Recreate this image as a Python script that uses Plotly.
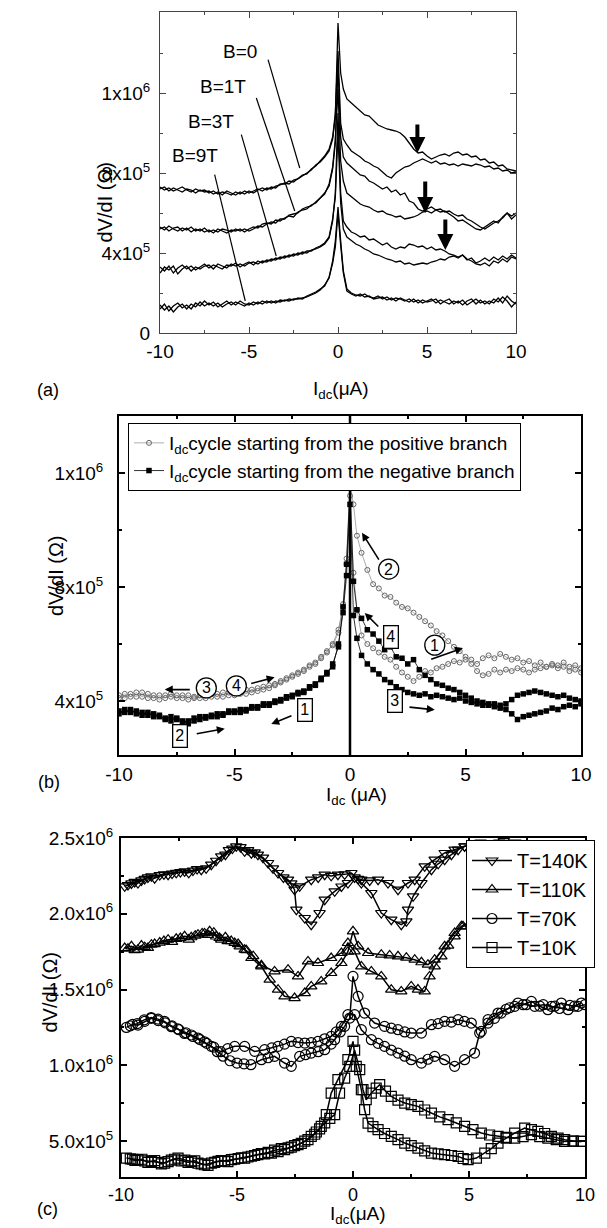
import plotly.graph_objects as go

W, H = 607, 1228
FONT = "Liberation Sans, Arial, Helvetica, sans-serif"
U = 1e5  # all dV/dI lists below are given in units of 1e5 Ohm

# ---------------- shared current grid (uA) for panels (a) and (b) ----------------
I_LEFT = [-10, -9.75, -9.5, -9.25, -9, -8.75, -8.5, -8.25, -8, -7.75, -7.5, -7.25, -7,
          -6.75, -6.5, -6.25, -6, -5.75, -5.5, -5.25, -5, -4.75, -4.5, -4.25, -4, -3.75,
          -3.5, -3.25, -3, -2.75, -2.5, -2.25, -2, -1.75, -1.5, -1.25, -1, -0.75, -0.5]
I_PEAK = [-0.3, -0.15, 0, 0.15, 0.3]
I_RIGHT = [0.5, 0.75, 1, 1.25, 1.5, 1.75, 2, 2.25, 2.5, 2.75, 3, 3.25, 3.5, 3.75, 4, 4.25,
           4.5, 4.75, 5, 5.25, 5.5, 5.75, 6, 6.25, 6.5, 6.75, 7, 7.25, 7.5, 7.75, 8, 8.25,
           8.5, 8.75, 9, 9.25, 9.5, 9.75, 10]
I_GRID = I_LEFT + I_PEAK + I_RIGHT

# ---------------- panel (a): field dependence, two sweeps per field ----------------
B0_SWEEP1 = [7.3, 7.15, 7.25, 7.1, 7.2, 7.3, 7.15, 7.05, 7.2, 7.1, 7.15, 7.0, 7.1, 6.95, 7.05, 7.0,
             6.9, 7.05, 6.95, 7.1, 7.0, 7.1, 7.2, 7.1, 7.25, 7.2, 7.35, 7.4, 7.5, 7.45, 7.65, 7.7,
             7.85, 8.0, 8.15, 8.4, 8.55, 8.8, 9.1,
             9.7, 10.8, 15.5, 13.0, 12.2,
             11.7, 11.5, 11.3, 11.1, 10.9, 10.85, 10.6, 10.4, 10.3, 10.2, 10.15, 10.1, 10.0, 9.8,
             9.5, 9.2, 9.0, 9.05, 8.85, 8.7, 8.8, 8.9, 8.95, 8.85, 9.0, 9.05, 8.9, 8.95, 8.8,
             8.85, 8.65, 8.7, 8.5, 8.55, 8.35, 8.4, 8.2, 8.15, 8.1]
B0_SWEEP2 = [7.2, 7.3, 7.1, 7.25, 7.15, 7.05, 7.2, 7.15, 7.0, 7.15, 7.05, 7.1, 6.95, 7.05, 6.9, 7.1,
             7.0, 6.9, 7.05, 6.95, 7.1, 7.0, 7.15, 7.25, 7.15, 7.3, 7.25, 7.45, 7.45, 7.6, 7.55,
             7.75, 7.9, 7.95, 8.2, 8.35, 8.6, 8.85, 9.2,
             9.8, 11.0, 14.1, 10.5, 9.7,
             9.4, 9.1, 8.95, 8.8, 8.6, 8.5, 8.35, 8.25, 8.05, 7.85, 7.75, 8.0, 8.15, 8.3, 8.35,
             8.5, 8.6, 8.7, 8.6, 8.5, 8.6, 8.45, 8.5, 8.4, 8.45, 8.35, 8.45, 8.4, 8.35, 8.45,
             8.4, 8.3, 8.35, 8.2, 8.25, 8.1, 8.15, 8.0, 8.05]
B1_SWEEP1 = [5.3, 5.15, 5.35, 5.2, 5.1, 5.25, 5.15, 5.3, 5.1, 5.2, 5.05, 5.15, 5.0, 5.2, 5.1, 5.0,
             5.15, 5.1, 5.2, 5.05, 5.2, 5.3, 5.25, 5.45, 5.5, 5.45, 5.65, 5.6, 5.75, 5.85, 5.8,
             6.05, 6.15, 6.2, 6.4, 6.5, 6.75, 7.0, 7.35,
             8.2, 9.5, 13.3, 9.8, 8.8,
             8.5, 8.3, 8.1, 7.9, 7.85, 7.6, 7.5, 7.35, 7.2, 7.3, 7.05, 7.15, 6.9, 7.0, 6.6, 6.5,
             6.2, 6.1, 6.2, 6.3, 6.15, 6.2, 6.05, 6.1, 5.95, 5.85, 5.9, 5.7, 5.6, 5.45, 5.3, 5.2,
             5.35, 5.5, 5.6, 5.75, 6.0, 5.7, 5.9]
B1_SWEEP2 = [5.2, 5.3, 5.1, 5.25, 5.3, 5.1, 5.25, 5.05, 5.2, 5.1, 5.25, 5.05, 5.15, 5.05, 5.2,
             5.15, 5.05, 5.2, 5.1, 5.2, 5.1, 5.2, 5.35, 5.3, 5.45, 5.55, 5.5, 5.7, 5.7, 5.9, 5.95,
             6.0, 6.2, 6.3, 6.35, 6.55, 6.8, 6.95, 7.45,
             8.3, 9.7, 12.2, 8.6, 7.6,
             7.0, 6.8, 6.6, 6.45, 6.35, 6.3, 6.15, 6.05, 6.1, 5.95, 5.9, 5.8, 5.85, 5.7, 5.75,
             5.8, 5.9, 6.05, 6.1, 6.0, 6.15, 6.05, 6.1, 5.95, 5.8, 5.6, 5.65, 5.5, 5.35, 5.2,
             5.15, 5.3, 5.45, 5.6, 5.5, 5.8, 6.0, 5.85, 6.0]
B3_SWEEP1 = [3.3, 3.1, 3.35, 3.0, 3.25, 3.4, 3.2, 3.35, 3.15, 3.3, 3.45, 3.25, 3.4, 3.3, 3.2, 3.4,
             3.35, 3.5, 3.3, 3.45, 3.55, 3.4, 3.6, 3.5, 3.65, 3.6, 3.75, 3.7, 3.85, 3.8, 3.95, 3.9,
             4.05, 4.0, 4.15, 4.2, 4.3, 4.45, 4.75,
             5.6, 7.0, 11.0, 7.0, 5.6,
             5.3, 5.05, 4.95, 4.8, 4.85, 4.65, 4.7, 4.55, 4.4, 4.5, 4.3, 4.2, 4.3, 4.25, 4.45,
             4.4, 4.3, 4.35, 4.2, 4.3, 4.15, 4.2, 4.1, 3.95, 3.9, 3.8, 3.9, 3.65, 3.75, 3.5, 3.6,
             3.75, 3.6, 3.8, 3.65, 3.85, 3.7, 3.9, 3.75]
B3_SWEEP2 = [3.0, 3.3, 3.15, 3.35, 2.95, 3.2, 3.35, 3.1, 3.3, 3.2, 3.35, 3.4, 3.2, 3.45, 3.35,
             3.25, 3.45, 3.35, 3.45, 3.35, 3.5, 3.55, 3.45, 3.6, 3.55, 3.7, 3.65, 3.8, 3.75, 3.9,
             3.85, 4.0, 3.95, 4.1, 4.1, 4.25, 4.35, 4.5, 4.8,
             5.7, 6.8, 10.0, 6.5, 5.2,
             4.8, 4.6, 4.45, 4.35, 4.2, 4.1, 3.95, 3.9, 3.8, 3.7, 3.65, 3.55, 3.6, 3.45, 3.5,
             3.4, 3.45, 3.5, 3.45, 3.55, 3.6, 3.7, 3.65, 3.8, 3.85, 3.75, 3.9, 3.7, 3.6, 3.45,
             3.4, 3.5, 3.35, 3.6, 3.5, 3.7, 3.55, 3.8, 3.7]
B9_SWEEP1 = [1.2, 1.45, 1.1, 1.35, 1.5, 1.25, 1.4, 1.2, 1.5, 1.35, 1.6, 1.4, 1.55, 1.3, 1.45, 1.6,
             1.4, 1.55, 1.45, 1.35, 1.5, 1.4, 1.55, 1.45, 1.6, 1.5, 1.6, 1.55, 1.65, 1.6, 1.7,
             1.7, 1.75, 1.8, 1.9, 2.0, 2.15, 2.4, 2.75,
             3.6, 4.6, 6.3, 4.6, 3.1,
             2.2, 2.0, 1.9, 1.85, 1.95, 1.8, 1.75, 1.85, 1.7, 1.8, 1.65, 1.75, 1.7, 1.6, 1.7,
             1.55, 1.65, 1.5, 1.6, 1.7, 1.5, 1.65, 1.55, 1.45, 1.6, 1.5, 1.65, 1.4, 1.55, 1.7,
             1.5, 1.6, 1.45, 1.7, 1.55, 1.8, 1.6, 1.3, 1.55]
B9_SWEEP2 = [1.4, 1.15, 1.35, 1.05, 1.3, 1.45, 1.2, 1.45, 1.3, 1.55, 1.35, 1.5, 1.35, 1.5, 1.3,
             1.45, 1.55, 1.4, 1.6, 1.45, 1.4, 1.55, 1.45, 1.6, 1.5, 1.6, 1.5, 1.65, 1.6, 1.7,
             1.65, 1.75, 1.7, 1.85, 1.95, 2.05, 2.2, 2.35, 2.8,
             3.5, 4.3, 6.0, 4.4, 3.0,
             2.1, 1.95, 1.85, 1.95, 1.8, 1.85, 1.7, 1.75, 1.8, 1.65, 1.75, 1.6, 1.75, 1.65, 1.55,
             1.7, 1.5, 1.65, 1.55, 1.6, 1.7, 1.45, 1.6, 1.7, 1.45, 1.6, 1.4, 1.6, 1.7, 1.45,
             1.65, 1.45, 1.6, 1.5, 1.75, 1.5, 1.85, 1.6, 1.45]

# ---------------- panel (b): cycles started from positive / negative branch ----------------
POS_SWEEP1 = [4.2, 4.1, 4.25, 4.15, 4.3, 4.1, 4.2, 4.05, 4.2, 4.15, 4.1, 4.2, 4.05, 4.15, 4.1,
              4.2, 4.15, 4.25, 4.15, 4.3, 4.2, 4.3, 4.25, 4.4, 4.35, 4.5, 4.45, 4.6, 4.7, 4.75,
              4.9, 4.95, 5.1, 5.2, 5.35, 5.5, 5.7, 6.0, 6.5,
              7.3, 9.0, 11.6, 10.9, 9.8,
              9.2, 8.6, 8.1, 7.95, 7.7, 7.65, 7.45, 7.3, 7.25, 7.1, 6.95, 6.8, 6.65, 6.45, 6.3,
              6.1, 5.9, 5.75, 5.55, 5.45, 5.3, 5.5, 5.6, 5.5, 5.65, 5.55, 5.45, 5.5, 5.35, 5.4,
              5.25, 5.35, 5.2, 5.25, 5.15, 5.2, 5.05, 5.1, 5.0]
POS_SWEEP2 = [4.1, 4.25, 4.15, 4.3, 4.15, 4.25, 4.1, 4.2, 4.1, 4.25, 4.2, 4.1, 4.2, 4.1, 4.2,
              4.1, 4.25, 4.15, 4.3, 4.2, 4.3, 4.25, 4.4, 4.3, 4.45, 4.4, 4.55, 4.55, 4.65, 4.8,
              4.85, 5.0, 5.05, 5.25, 5.3, 5.55, 5.75, 5.95, 6.4,
              7.4, 8.8, 11.2, 8.5, 7.2,
              6.3, 6.0, 5.85, 5.7, 5.55, 5.45, 5.2, 5.0, 4.85, 4.7, 4.85, 5.05, 5.0, 5.15, 5.2,
              5.3, 5.4, 5.35, 5.45, 5.3, 5.05, 4.9, 4.95, 5.1, 5.0, 5.1, 5.05, 5.15, 5.1, 5.0,
              5.1, 5.15, 5.2, 5.3, 5.25, 5.35, 5.2, 5.25, 5.15]
NEG_SWEEP1 = [3.65, 3.6, 3.7, 3.55, 3.6, 3.5, 3.55, 3.45, 3.4, 3.45, 3.35, 3.25, 3.3, 3.4, 3.35,
              3.45, 3.5, 3.45, 3.55, 3.6, 3.65, 3.6, 3.7, 3.75, 3.8, 3.85, 3.9, 3.95, 4.05, 4.1,
              4.2, 4.25, 4.35, 4.45, 4.6, 4.75, 4.95, 5.3, 5.9,
              7.3, 8.8, 11.5, 8.2, 7.2,
              6.9, 6.5, 6.35, 6.1, 5.8, 5.9, 5.55, 5.5, 5.3, 5.45, 5.1, 4.9, 4.75, 4.6, 4.55,
              4.45, 4.4, 4.3, 4.2, 4.1, 4.0, 3.95, 3.85, 3.9, 3.75, 3.7, 3.55, 3.35, 3.45, 3.5,
              3.55, 3.6, 3.65, 3.75, 3.7, 3.8, 3.85, 3.8, 3.9]
NEG_SWEEP2 = [3.55, 3.7, 3.6, 3.65, 3.5, 3.6, 3.45, 3.5, 3.35, 3.3, 3.4, 3.3, 3.2, 3.3, 3.45,
              3.4, 3.45, 3.55, 3.5, 3.65, 3.6, 3.7, 3.65, 3.8, 3.75, 3.9, 3.85, 4.0, 4.0, 4.15,
              4.15, 4.3, 4.3, 4.5, 4.55, 4.8, 5.0, 5.2, 6.0,
              7.1, 8.4, 10.9, 7.0, 6.2,
              5.6, 5.3, 5.1, 4.95, 4.75, 4.65, 4.5, 4.4, 4.3, 4.25, 4.2, 4.25, 4.15, 4.2, 4.15,
              4.1, 4.05, 4.1, 4.0, 3.95, 3.9, 3.85, 3.9, 3.8, 3.85, 3.9, 4.05, 4.2, 4.25, 4.3,
              4.35, 4.3, 4.25, 4.2, 4.15, 4.2, 4.1, 4.05, 4.0]

# ---------------- panel (c): temperature dependence, two sweeps per T ----------------
T140_X1 = [-9.84, -9.55, -9.27, -8.98, -8.69, -8.33, -7.97, -7.62, -7.26, -6.9, -6.54, -6.11,
           -5.68, -5.35, -5.03, -4.67, -4.38, -4.1, -3.66, -3.23, -2.8, -2.52, -2.44, -2.08,
           -1.8, -1.44, -1.22, -0.79, -0.5, -0.22, 0.07, 0.36, 0.72, 1.08, 1.51, 1.94, 2.37,
           2.66, 3.09, 3.52, 3.95, 4.38, 4.81, 5.3, 5.8, 6.3, 6.8, 7.3, 7.8, 8.3, 8.8, 9.3, 9.8]
T140_Y1 = [21.81, 22.0, 22.03, 22.3, 22.47, 22.55, 22.58, 22.7, 22.8, 22.85, 22.91, 23.24,
           23.79, 24.2, 24.45, 24.12, 24.0, 23.9, 23.35, 22.69, 22.25, 21.59, 20.27, 19.72,
           19.28, 20.05, 20.93, 21.48, 21.8, 22.03, 22.4, 22.25, 22.2, 22.25, 22.03, 21.59,
           22.03, 22.25, 23.13, 23.57, 24.01, 24.23, 24.45, 24.6, 24.5, 24.7, 24.6, 24.5, 24.4,
           24.3, 24.2, 24.1, 24.0]
T140_X2 = [-9.7, -9.41, -9.12, -8.84, -8.55, -8.15, -7.8, -7.44, -7.08, -6.72, -6.33, -5.9,
           -5.5, -5.2, -4.85, -4.52, -4.24, -3.88, -3.45, -3.0, -2.66, -2.3, -1.8, -1.5, -1.22,
           -0.94, -0.65, -0.36, -0.07, 0.22, 0.36, 0.79, 1.22, 1.65, 2.08, 2.3, 2.37, 2.59,
           2.95, 3.38, 3.67, 3.95, 4.24, 4.53, 4.81, 5.5, 6.0, 6.5, 7.0, 7.5, 8.0, 8.5, 9.0,
           9.5, 10.0]
T140_Y2 = [21.9, 22.1, 22.2, 22.4, 22.35, 22.6, 22.65, 22.75, 22.7, 22.95, 23.0, 23.5, 23.9,
           24.3, 24.4, 24.2, 24.05, 23.7, 23.0, 22.4, 22.0, 21.81, 22.25, 22.4, 22.58, 22.5,
           22.58, 22.6, 22.69, 22.3, 22.03, 21.37, 20.05, 19.61, 19.28, 19.5, 20.27, 21.15,
           22.03, 22.91, 23.3, 23.57, 23.9, 24.23, 24.45, 24.7, 24.6, 24.8, 24.7, 24.5, 24.4,
           24.3, 24.2, 24.1, 24.0]
T110_X1 = [-9.84, -9.55, -9.27, -8.98, -8.69, -8.33, -7.97, -7.62, -7.26, -6.97, -6.68, -6.4,
           -6.18, -5.9, -5.68, -5.4, -5.1, -4.88, -4.67, -4.38, -3.95, -3.59, -3.23, -2.95,
           -2.52, -2.08, -1.8, -1.37, -0.94, -0.5, -0.22, 0.0, 0.22, 0.65, 1.22, 1.58, 1.94,
           2.3, 2.66, 2.95, 3.23, 3.52, 3.95, 4.38, 4.67, 5.2, 5.8, 6.4, 7.0, 7.6, 8.2, 8.8,
           9.4, 10.0]
T110_Y1 = [17.74, 17.85, 17.63, 17.8, 17.96, 18.1, 18.29, 18.35, 18.51, 18.45, 18.62, 18.7,
           18.84, 18.5, 18.29, 18.2, 18.07, 17.85, 17.63, 17.08, 16.53, 15.65, 14.99, 14.55,
           14.44, 14.77, 15.21, 15.54, 16.09, 16.75, 17.5, 18.84, 17.85, 17.41, 17.3, 17.25,
           17.19, 17.1, 16.97, 16.8, 16.64, 16.97, 17.85, 18.73, 19.17, 19.6, 19.9, 20.1, 20.0,
           19.9, 20.1, 20.0, 19.8, 19.9]
T110_X2 = [-9.7, -9.41, -9.12, -8.84, -8.55, -8.15, -7.8, -7.44, -7.08, -6.8, -6.5, -6.25, -6.0,
           -5.75, -5.5, -5.25, -4.95, -4.6, -4.3, -3.95, -3.38, -2.8, -2.37, -1.94, -1.51, -0.94,
           -0.5, -0.22, 0.07, 0.36, 0.79, 1.22, 1.65, 2.08, 2.51, 2.8, 3.09, 3.3, 3.52, 3.81,
           4.1, 4.38, 4.74, 5.3, 5.9, 6.5, 7.1, 7.7, 8.3, 8.9, 9.5, 10.0]
T110_Y2 = [17.7, 17.6, 17.9, 17.75, 18.0, 18.2, 18.15, 18.4, 18.3, 18.55, 18.7, 18.6, 18.75,
           18.4, 18.45, 18.2, 18.0, 17.6, 17.2, 16.6, 16.2, 16.31, 15.87, 16.86, 16.75, 17.08,
           17.41, 18.07, 17.52, 16.53, 16.2, 15.87, 14.99, 14.88, 15.21, 15.0, 14.88, 15.87,
           16.53, 17.19, 17.9, 18.51, 19.17, 19.5, 19.8, 20.0, 20.2, 19.9, 20.0, 19.8, 20.1, 19.9]
T70_X1 = [-9.77, -9.5, -9.27, -8.98, -8.69, -8.4, -8.12, -7.83, -7.55, -7.26, -6.97, -6.68,
          -6.4, -6.11, -5.85, -5.6, -5.3, -5.0, -4.7, -4.4, -3.95, -3.66, -3.38, -2.95, -2.66,
          -2.3, -2.05, -1.8, -1.5, -1.22, -0.94, -0.79, -0.55, -0.36, -0.14, 0.0, 0.22, 0.5,
          0.93, 1.36, 1.65, 1.94, 2.23, 2.51, 2.95, 3.38, 3.67, 3.95, 4.24, 4.53, 4.8, 5.1,
          5.53, 5.82, 6.25, 6.6, 6.97, 7.33, 7.69, 8.05, 8.4, 8.7, 8.98, 9.35, 9.7, 10.0]
T70_Y1 = [12.5, 12.7, 12.65, 12.9, 13.1, 12.95, 12.9, 12.55, 12.4, 12.1, 12.0, 11.8, 11.55,
          11.25, 10.9, 10.6, 10.3, 10.15, 10.1, 10.04, 10.37, 10.5, 10.59, 10.15, 9.93, 10.59,
          10.7, 10.81, 10.9, 11.03, 11.4, 11.69, 12.2, 12.57, 13.12, 15.87, 14.55, 13.45,
          12.79, 12.57, 12.45, 12.35, 12.2, 12.13, 12.13, 12.68, 12.75, 12.9, 12.85, 13.01,
          12.9, 12.79, 12.24, 13.01, 13.45, 13.7, 13.89, 14.0, 14.22, 13.9, 13.67, 13.9,
          14.11, 13.95, 13.89, 14.0]
T70_X2 = [-9.6, -9.3, -9.0, -8.7, -8.4, -8.1, -7.8, -7.5, -7.2, -6.9, -6.6, -6.3, -6.0, -5.7,
          -5.4, -5.1, -4.67, -4.24, -3.81, -3.5, -3.23, -2.95, -2.66, -2.37, -2.08, -1.8, -1.51,
          -1.22, -0.94, -0.72, -0.5, -0.22, 0.07, 0.36, 0.79, 1.08, 1.36, 1.65, 1.94, 2.23,
          2.51, 2.95, 3.23, 3.52, 3.95, 4.38, 4.81, 5.24, 5.46, 5.82, 6.1, 6.39, 6.75, 7.11,
          7.47, 7.83, 8.2, 8.55, 8.9, 9.27, 9.55, 9.84]
T70_Y2 = [12.6, 12.75, 13.0, 13.15, 13.05, 12.8, 12.6, 12.35, 12.15, 11.9, 11.7, 11.45, 11.2,
          10.9, 11.1, 11.25, 11.25, 10.92, 11.03, 11.15, 11.25, 11.4, 11.58, 11.5, 11.47, 11.5,
          11.58, 11.75, 11.91, 12.2, 12.57, 13.34, 13.34, 12.35, 11.69, 11.45, 11.25, 11.0,
          10.81, 10.6, 10.37, 10.15, 10.4, 10.59, 10.37, 9.93, 10.37, 10.81, 12.13, 12.79,
          13.1, 13.45, 13.8, 14.11, 14.0, 13.89, 14.0, 13.89, 13.75, 13.67, 13.9, 14.11]
T10_X1 = [-9.77, -9.5, -9.27, -8.98, -8.69, -8.4, -8.12, -7.83, -7.54, -7.25, -6.97, -6.68,
          -6.4, -6.1, -5.82, -5.53, -5.24, -4.95, -4.67, -4.38, -4.1, -3.81, -3.52, -3.23,
          -2.95, -2.66, -2.37, -2.08, -1.8, -1.58, -1.37, -1.15, -0.94, -0.65, -0.22, 0.0,
          0.14, 0.36, 0.5, 0.65, 0.86, 1.08, 1.36, 1.65, 1.94, 2.23, 2.51, 2.8, 3.09, 3.38,
          3.67, 3.95, 4.24, 4.53, 4.75, 4.96, 5.32, 5.68, 5.96, 6.25, 6.6, 6.97, 7.4, 7.69,
          7.97, 8.26, 8.55, 8.84, 9.12, 9.5, 9.84]
T10_Y1 = [3.88, 3.8, 3.77, 3.7, 3.66, 3.6, 3.55, 3.75, 3.88, 3.75, 3.66, 3.55, 3.44, 3.55,
          3.66, 3.7, 3.77, 3.85, 3.88, 4.0, 4.1, 4.15, 4.21, 4.3, 4.43, 4.6, 4.76, 5.0, 5.31,
          5.6, 5.97, 6.74, 8.17, 9.05, 10.37, 11.58, 9.93, 8.39, 7.07, 6.19, 5.95, 5.75, 5.5,
          5.31, 5.1, 4.87, 4.7, 4.54, 4.35, 4.21, 4.15, 4.1, 4.05, 3.99, 3.85, 3.77, 3.88,
          4.21, 4.5, 4.87, 5.2, 5.53, 5.86, 5.75, 5.64, 5.5, 5.31, 5.2, 5.09, 5.0, 4.98]
T10_X2 = [-9.6, -9.4, -9.1, -8.84, -8.55, -8.26, -7.97, -7.69, -7.4, -7.11, -6.82, -6.54,
          -6.25, -5.96, -5.68, -5.39, -5.1, -4.81, -4.53, -4.24, -3.95, -3.66, -3.38, -3.09,
          -2.8, -2.52, -2.23, -1.94, -1.65, -1.44, -1.22, -1.0, -0.79, -0.58, -0.36, -0.14,
          0.07, 0.29, 0.43, 0.57, 0.79, 1.0, 1.15, 1.4, 1.65, 1.94, 2.23, 2.51, 2.8, 3.09,
          3.38, 3.74, 4.1, 4.45, 4.81, 5.17, 5.53, 5.89, 6.25, 6.6, 6.97, 7.33, 7.69, 8.05,
          8.4, 8.76, 9.12, 9.48, 9.84]
T10_Y2 = [3.82, 3.72, 3.8, 3.6, 3.72, 3.5, 3.65, 3.8, 3.7, 3.6, 3.7, 3.5, 3.4, 3.6, 3.72,
          3.65, 3.8, 3.9, 3.95, 4.05, 4.18, 4.25, 4.4, 4.5, 4.55, 4.7, 4.85, 5.1, 5.45, 5.8,
          6.2, 6.5, 6.74, 8.17, 9.16, 9.93, 11.0, 9.71, 8.39, 7.73, 8.17, 8.5, 8.72, 8.3, 7.95,
          7.7, 7.51, 7.4, 7.29, 7.05, 6.85, 6.6, 6.41, 6.2, 5.97, 5.75, 5.53, 5.4, 5.31, 5.25,
          5.2, 5.3, 5.42, 5.3, 5.2, 5.1, 4.98, 5.0, 4.98]

X_TICKS = [-10, -5, 0, 5, 10]
X_TICKTEXT = ["-10", "-5", "0", "5", "10"]
A_YTICKS = [0, 4, 8, 12]
A_YTICKTEXT = ["0", "4x10<sup>5</sup>", "8x10<sup>5</sup>", "1x10<sup>6</sup>"]
B_YTICKS = [4, 8, 12]
B_YTICKTEXT = ["4x10<sup>5</sup>", "8x10<sup>5</sup>", "1x10<sup>6</sup>"]
C_YTICKS = [5, 10, 15, 20, 25]
C_YTICKTEXT = ["5.0x10<sup>5</sup>", "1.0x10<sup>6</sup>", "1.5x10<sup>6</sup>",
               "2.0x10<sup>6</sup>", "2.5x10<sup>6</sup>"]

for arr in [B0_SWEEP1, B0_SWEEP2, B1_SWEEP1, B1_SWEEP2, B3_SWEEP1, B3_SWEEP2, B9_SWEEP1,
            B9_SWEEP2, POS_SWEEP1, POS_SWEEP2, NEG_SWEEP1, NEG_SWEEP2]:
    assert len(arr) == len(I_GRID), len(arr)
for xs, ys in [(T140_X1, T140_Y1), (T140_X2, T140_Y2), (T110_X1, T110_Y1), (T110_X2, T110_Y2),
               (T70_X1, T70_Y1), (T70_X2, T70_Y2), (T10_X1, T10_Y1), (T10_X2, T10_Y2)]:
    assert len(xs) == len(ys), (len(xs), len(ys))


def ohm(v):
    return [u * U for u in v]


def px_x(p):
    return p / W


def px_y(p):
    return 1 - p / H


fig = go.Figure()

# ---- panel (a)
for ys in [B0_SWEEP1, B0_SWEEP2, B1_SWEEP1, B1_SWEEP2, B3_SWEEP1, B3_SWEEP2, B9_SWEEP1, B9_SWEEP2]:
    fig.add_trace(go.Scatter(x=I_GRID, y=ohm(ys), mode="lines", xaxis="x", yaxis="y",
                             line=dict(color="black", width=1.3), showlegend=False))

# ---- panel (b)
pos_name = "I<sub>dc</sub>cycle starting from the positive branch"
neg_name = "I<sub>dc</sub>cycle starting from the negative branch"
for i, ys in enumerate([POS_SWEEP1, POS_SWEEP2]):
    fig.add_trace(go.Scatter(x=I_GRID, y=ohm(ys), mode="lines+markers", xaxis="x2", yaxis="y2",
                             name=pos_name, legendgroup="pos", showlegend=(i == 0), legend="legend",
                             line=dict(color="#888888", width=0.7),
                             marker=dict(symbol="circle-open", size=5, color="#666666",
                                         line=dict(width=1))))
for i, ys in enumerate([NEG_SWEEP1, NEG_SWEEP2]):
    fig.add_trace(go.Scatter(x=I_GRID, y=ohm(ys), mode="lines+markers", xaxis="x2", yaxis="y2",
                             name=neg_name, legendgroup="neg", showlegend=(i == 0), legend="legend",
                             line=dict(color="black", width=0.8),
                             marker=dict(symbol="square", size=5.5, color="black")))

# ---- panel (c)
c_series = [("T=140K", "triangle-down-open", [(T140_X1, T140_Y1), (T140_X2, T140_Y2)]),
            ("T=110K", "triangle-up-open", [(T110_X1, T110_Y1), (T110_X2, T110_Y2)]),
            ("T=70K", "circle-open", [(T70_X1, T70_Y1), (T70_X2, T70_Y2)]),
            ("T=10K", "square-open", [(T10_X1, T10_Y1), (T10_X2, T10_Y2)])]
for name, sym, sweeps in c_series:
    for i, (xs, ys) in enumerate(sweeps):
        fig.add_trace(go.Scatter(x=xs, y=ohm(ys), mode="lines+markers", xaxis="x3", yaxis="y3",
                                 name=name, legendgroup=name, showlegend=(i == 0), legend="legend2",
                                 line=dict(color="black", width=1.5),
                                 marker=dict(symbol=sym, size=10, color="black",
                                             line=dict(width=1.2))))


def xaxis_cfg(domain, anchor, lw, lc, standoff, fsize=19):
    return dict(domain=domain, anchor=anchor, range=[-10, 10], tickvals=X_TICKS,
                ticktext=X_TICKTEXT, showline=True, linewidth=lw, linecolor=lc, mirror="ticks",
                ticks="inside", ticklen=6, tickwidth=lw, tickcolor=lc, showgrid=False,
                zeroline=False, ticklabelstandoff=standoff,
                tickfont=dict(family=FONT, size=fsize, color="black"),
                minor=dict(ticks="inside", ticklen=3, tickwidth=lw, tickcolor=lc, dtick=2.5,
                           tick0=0, showgrid=False))


def yaxis_cfg(domain, anchor, rng, tv, tt, mdt, lw, lc, standoff):
    return dict(domain=domain, anchor=anchor, range=rng, tickvals=tv, ticktext=tt,
                showline=True, linewidth=lw, linecolor=lc, mirror="ticks", ticks="inside",
                ticklen=6, tickwidth=lw, tickcolor=lc, showgrid=False, zeroline=False,
                ticklabelstandoff=standoff, tickfont=dict(family=FONT, size=19, color="black"),
                minor=dict(ticks="inside", ticklen=3, tickwidth=lw, tickcolor=lc, dtick=mdt,
                           tick0=0, showgrid=False))


fig.update_layout(
    width=W, height=H, margin=dict(l=0, r=0, t=0, b=0, autoexpand=False),
    paper_bgcolor="white", plot_bgcolor="white",
    font=dict(family=FONT, size=19, color="black"),
    xaxis=xaxis_cfg([px_x(152), px_x(508)], "y", 1, "#444444", 1),
    yaxis=yaxis_cfg([px_y(325), px_y(4)], "x", [0, 16.05 * U], [v * U for v in A_YTICKS],
                    A_YTICKTEXT, 2 * U, 1, "#444444", 5),
    xaxis2=xaxis_cfg([px_x(111), px_x(573)], "y2", 2, "black", 1),
    yaxis2=yaxis_cfg([px_y(747), px_y(408)], "x2", [2.105 * U, 14.0 * U],
                     [v * U for v in B_YTICKS], B_YTICKTEXT, 2 * U, 2, "black", 10),
    xaxis3=xaxis_cfg([px_x(113), px_x(577)], "y3", 2, "black", 0, 18),
    yaxis3=yaxis_cfg([px_y(1169), px_y(830)], "x3", [2.63 * U, 25 * U],
                     [v * U for v in C_YTICKS], C_YTICKTEXT, 2.5 * U, 2, "black", 2),
    legend=dict(x=px_x(120), y=px_y(415), xanchor="left", yanchor="top", bgcolor="white",
                bordercolor="black", borderwidth=1, font=dict(family=FONT, size=19),
                tracegroupgap=0, itemwidth=30),
    legend2=dict(x=px_x(458), y=px_y(832), xanchor="left", yanchor="top", bgcolor="white",
                 bordercolor="black", borderwidth=1, font=dict(family=FONT, size=20),
                 tracegroupgap=0, itemwidth=40),
)

shapes = []
annotations = []

# ---- panel (a) labels with pointer lines
a_labels = [("B=0", -5.52, 14.1, (-3.93, 13.67), (-2.15, 8.25)),
            ("B=1T", -6.46, 12.35, (-4.59, 11.75), (-2.43, 6.1)),
            ("B=3T", -7.13, 10.6, (-5.43, 9.92), (-3.47, 3.85)),
            ("B=9T", -8.05, 8.9, (-6.93, 7.92), (-5.21, 1.6))]
for txt, tx, ty, p0, p1 in a_labels:
    annotations.append(dict(x=tx, y=ty * U, xref="x", yref="y", text=txt, showarrow=False,
                            font=dict(family=FONT, size=19)))
    shapes.append(dict(type="line", xref="x", yref="y", x0=p0[0], y0=p0[1] * U, x1=p1[0],
                       y1=p1[1] * U, line=dict(color="black", width=1.2)))
for ax_, y_top, y_tip in [(4.46, 10.5, 9.0), (4.9, 7.65, 6.0), (6.03, 5.75, 4.15)]:
    annotations.append(dict(x=ax_, y=y_tip * U, ax=ax_, ay=y_top * U, xref="x", yref="y",
                            axref="x", ayref="y", text="", showarrow=True, arrowhead=2,
                            arrowsize=0.8, arrowwidth=4, arrowcolor="black"))

# ---- panel (b) markers of cycle order
shapes.append(dict(type="line", xref="x2", yref="y2 domain", x0=0, x1=0, y0=0, y1=1,
                   line=dict(color="black", width=2.5)))
circled = [("2", 1.675, 8.63), ("1", 3.67, 5.96), ("3", -6.22, 4.46), ("4", -4.92, 4.53)]
boxed = [("4", 1.79, 6.25), ("3", 1.94, 4.0), ("1", -1.96, 3.69), ("2", -7.37, 2.76)]
for txt, cx, cy in circled:
    shapes.append(dict(type="circle", xref="x2", yref="y2", xsizemode="pixel",
                       ysizemode="pixel", xanchor=cx, yanchor=cy * U, x0=-10, x1=10, y0=-10,
                       y1=10, line=dict(color="black", width=1.3), fillcolor="white"))
    annotations.append(dict(x=cx, y=cy * U, xref="x2", yref="y2", text=txt, showarrow=False,
                            font=dict(family=FONT, size=16)))
for txt, cx, cy in boxed:
    annotations.append(dict(x=cx, y=cy * U, xref="x2", yref="y2", text=txt, showarrow=False,
                            font=dict(family=FONT, size=16), bordercolor="black",
                            borderwidth=1.3, borderpad=2, bgcolor="white"))
b_arrows = [((1.29, 8.91), (0.52, 9.9)), ((3.45, 5.45), (4.89, 5.86)),
            ((1.29, 6.56), (0.64, 7.09)), ((2.51, 3.79), (3.67, 3.69)),
            ((-6.87, 4.4), (-8.02, 4.4)), ((-4.34, 4.6), (-3.26, 4.83)),
            ((-2.47, 3.5), (-3.41, 3.19)), ((-6.7, 2.84), (-5.42, 3.03))]
for (tx, ty), (hx, hy) in b_arrows:
    annotations.append(dict(x=hx, y=hy * U, ax=tx, ay=ty * U, xref="x2", yref="y2",
                            axref="x2", ayref="y2", text="", showarrow=True, arrowhead=2,
                            arrowsize=1, arrowwidth=1.6, arrowcolor="black"))

# ---- axis titles and panel tags
for cx, cy in [(83, 152), (35, 568), (28, 1027)]:
    annotations.append(dict(x=px_x(cx), y=px_y(cy), xref="paper", yref="paper",
                            text="dV/dI (\u03a9)", textangle=-90, showarrow=False,
                            font=dict(family=FONT, size=20)))
for txt, cx, cy in [("I<sub>dc</sub>(\u03bcA)", 333, 368), ("I<sub>dc</sub> (\u03bcA)", 348, 788),
                    ("I<sub>dc</sub>(\u03bcA)", 350, 1221)]:
    annotations.append(dict(x=px_x(cx), y=px_y(cy), xref="paper", yref="paper", text=txt,
                            showarrow=False, font=dict(family=FONT, size=19)))
for txt, cx, cy in [("(a)", 27, 370), ("(b)", 28, 774), ("(c)", 27, 1213)]:
    annotations.append(dict(x=px_x(cx), y=px_y(cy), xref="paper", yref="paper", text=txt,
                            showarrow=False, font=dict(family=FONT, size=18)))

fig.update_layout(shapes=shapes, annotations=annotations)
fig.write_html("out.html")
